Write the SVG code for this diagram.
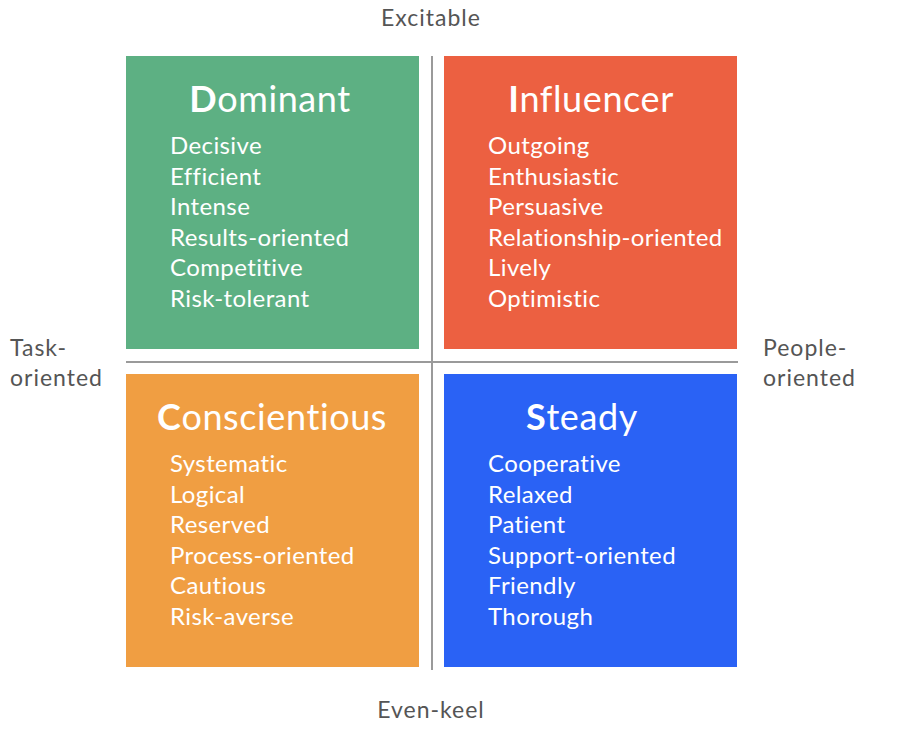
<svg xmlns="http://www.w3.org/2000/svg" width="898" height="736" viewBox="0 0 898 736">
<style>
text{font-variant-ligatures:none;font-feature-settings:"liga" 0}
.t{font-family:Lato,"Noto Sans",sans-serif;font-size:36px;letter-spacing:0.6px;fill:#fff;text-anchor:middle}
.t tspan.b{font-weight:bold}
.i{font-family:Lato,"Noto Sans",sans-serif;font-size:24px;letter-spacing:0.4px;fill:#fff}
.ax{font-family:Lato,"Noto Sans",sans-serif;font-size:23px;letter-spacing:1px;fill:#555}
.ln{stroke:#9a9a9a;stroke-width:2;fill:none}
</style>
<rect width="898" height="736" fill="#fff"/>
<g id="connectors">
<line class="ln" x1="432" y1="56" x2="432" y2="670"/>
<line class="ln" x1="126" y1="362" x2="738" y2="362"/>
</g>
<g id="dominant">
<rect x="126" y="56" width="293" height="293" fill="#5DB083"/>
<text class="t" x="270" y="112"><tspan class="b">D</tspan>ominant</text>
<text class="i" x="170" y="154">Decisive</text>
<text class="i" x="170" y="185">Efficient</text>
<text class="i" x="170" y="215">Intense</text>
<text class="i" x="170" y="246">Results-oriented</text>
<text class="i" x="170" y="276">Competitive</text>
<text class="i" x="170" y="307">Risk-tolerant</text>
</g>
<g id="influencer">
<rect x="444" y="56" width="293" height="293" fill="#EC6041"/>
<text class="t" x="591" y="112"><tspan class="b">I</tspan>nfluencer</text>
<text class="i" x="488" y="154">Outgoing</text>
<text class="i" x="488" y="185">Enthusiastic</text>
<text class="i" x="488" y="215">Persuasive</text>
<text class="i" x="488" y="246">Relationship-oriented</text>
<text class="i" x="488" y="276">Lively</text>
<text class="i" x="488" y="307">Optimistic</text>
</g>
<g id="conscientious">
<rect x="126" y="374" width="293" height="293" fill="#F09E42"/>
<text class="t" x="272" y="430"><tspan class="b">C</tspan>onscientious</text>
<text class="i" x="170" y="472">Systematic</text>
<text class="i" x="170" y="503">Logical</text>
<text class="i" x="170" y="533">Reserved</text>
<text class="i" x="170" y="564">Process-oriented</text>
<text class="i" x="170" y="594">Cautious</text>
<text class="i" x="170" y="625">Risk-averse</text>
</g>
<g id="steady">
<rect x="444" y="374" width="293" height="293" fill="#2A62F5"/>
<text class="t" x="582" y="430"><tspan class="b">S</tspan>teady</text>
<text class="i" x="488" y="472">Cooperative</text>
<text class="i" x="488" y="503">Relaxed</text>
<text class="i" x="488" y="533">Patient</text>
<text class="i" x="488" y="564">Support-oriented</text>
<text class="i" x="488" y="594">Friendly</text>
<text class="i" x="488" y="625">Thorough</text>
</g>
<g id="axes">
<text class="ax" x="431" y="26" text-anchor="middle">Excitable</text>
<text class="ax" x="431" y="718" text-anchor="middle">Even-keel</text>
<text class="ax" x="10" y="356">Task-</text>
<text class="ax" x="10" y="386">oriented</text>
<text class="ax" x="763" y="356">People-</text>
<text class="ax" x="763" y="386">oriented</text>
</g>
</svg>
